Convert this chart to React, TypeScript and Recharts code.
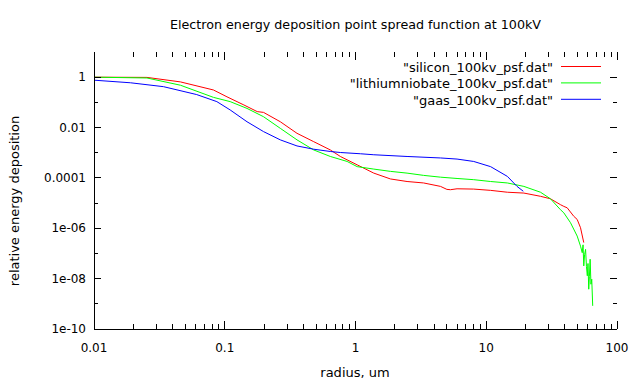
import React from 'react';
import { LineChart, Line, XAxis, YAxis, Legend } from 'recharts';

const FONT = '"DejaVu Sans", sans-serif';

const chartTitle = 'Electron energy deposition point spread function at 100kV';
const xAxisTitle = 'radius, um';
const yAxisTitle = 'relative energy deposition';

const xMajorTicks = [0.01, 0.1, 1, 10, 100];
const xMajorLabels = ['0.01', '0.1', '1', '10', '100'];
const xMinorTicks = [
  0.02, 0.03, 0.04, 0.05, 0.06, 0.07, 0.08, 0.09,
  0.2, 0.3, 0.4, 0.5, 0.6, 0.7, 0.8, 0.9,
  2, 3, 4, 5, 6, 7, 8, 9,
  20, 30, 40, 50, 60, 70, 80, 90,
];
const yMajorTicks = [1e-10, 1e-8, 1e-6, 1e-4, 0.01, 1];
const yMajorLabels = ['1e-10', '1e-08', '1e-06', '0.0001', '0.01', '1'];
const yMinorTicks = [1e-9, 1e-7, 1e-5, 1e-3, 0.1];

const seriesNames = ['"silicon_100kv_psf.dat"', '"lithiumniobate_100kv_psf.dat"', '"gaas_100kv_psf.dat"'];
const seriesColors = ['#ff0000', '#00ff00', '#0000ff'];

const siliconRadius = [0.01, 0.0254, 0.0458, 0.082, 0.104, 0.14, 0.177, 0.198, 0.266, 0.357, 0.479, 0.642, 0.766, 1.03, 1.38, 1.85, 2.48, 3.32, 4.47, 5.0, 5.32, 5.98, 8.02, 10.8, 14.5, 19.4, 26, 31, 36.9, 39.2, 41.6, 46.7, 49.6, 52.6, 55.7];
const siliconValue = [1.0, 0.98, 0.65, 0.31, 0.166, 0.079, 0.043, 0.04, 0.017, 0.0059, 0.00275, 0.00129, 7.1e-4, 3.3e-4, 1.55e-4, 9.1e-5, 7.2e-5, 6.3e-5, 4.6e-5, 3.5e-5, 3.4e-5, 3.7e-5, 3.6e-5, 3.2e-5, 2.7e-5, 2.5e-5, 1.86e-5, 1.48e-5, 8.7e-6, 7.4e-6, 6.5e-6, 3.0e-6, 2.24e-6, 1.05e-6, 2.7e-7];

const niobateRadius = [0.01, 0.0254, 0.0458, 0.082, 0.11, 0.148, 0.198, 0.266, 0.357, 0.479, 0.642, 0.863, 1.03, 1.38, 1.85, 2.48, 3.32, 4.47, 5.98, 8.02, 10.8, 14.5, 19.4, 26, 31, 36.9, 39.2, 44.1, 49.6, 52.6, 54.2, 55.0, 55.7, 56.5, 57.5, 58.4, 59.3, 60.0, 60.8, 61.5, 62.3, 63.2, 64.1, 65.2];
const niobateValue = [1.0, 0.93, 0.48, 0.158, 0.107, 0.0575, 0.0269, 0.0093, 0.00324, 0.00129, 7.1e-4, 4.5e-4, 2.8e-4, 2.24e-4, 1.82e-4, 1.55e-4, 1.26e-4, 1.07e-4, 9.5e-5, 8.5e-5, 7.2e-5, 6.3e-5, 4.6e-5, 2.7e-5, 1.48e-5, 5.5e-6, 4.1e-6, 1.66e-6, 4.9e-7, 1.95e-7, 1.07e-7, 2.2e-7, 3.2e-8, 9e-8, 1.45e-7, 3e-8, 1.3e-8, 4e-8, 3.8e-9, 1.2e-8, 5.9e-8, 6e-9, 9.5e-9, 8.3e-10];

const gaasRadius = [0.01, 0.019, 0.034, 0.061, 0.087, 0.11, 0.148, 0.198, 0.266, 0.357, 0.479, 0.642, 0.766, 1.09, 1.38, 2.48, 4.47, 5.98, 8.02, 10.8, 14.5, 17.2, 19.2];
const gaasValue = [0.76, 0.6, 0.42, 0.204, 0.107, 0.05, 0.017, 0.0069, 0.00324, 0.00186, 0.00138, 0.00112, 0.00102, 9.1e-4, 8.3e-4, 7.1e-4, 6.2e-4, 5.6e-4, 4.5e-4, 2.8e-4, 1.15e-4, 4.6e-5, 2.95e-5];

const toRows = (rs: number[], vs: number[]) => rs.map((r, i) => ({ r, v: vs[i] }));
const siliconData = toRows(siliconRadius, siliconValue);
const niobateData = toRows(niobateRadius, niobateValue);
const gaasData = toRows(gaasRadius, gaasValue);

const CHART_W = 640;
const CHART_H = 384;
const MARGIN = { top: 52, right: 23, left: 0, bottom: 0 };
const Y_AXIS_W = 94;
const X_AXIS_H = 55;
const PLOT_TOP = MARGIN.top;
const PLOT_RIGHT = CHART_W - MARGIN.right;

const xAllTicks = [...xMajorTicks, ...xMinorTicks];
const yAllTicks = [...yMajorTicks, ...yMinorTicks];

const tickText = { fontFamily: FONT, fontSize: 12, fill: '#000' } as const;

// Bottom axis tick: inward tick at the bottom, mirrored inward tick at the top, label for majors.
const XFrameTick = (props: any) => {
  const { x, y, payload } = props;
  const idx = xMajorTicks.indexOf(payload.value);
  const len = idx >= 0 ? 8 : 5;
  return (
    <g>
      <line x1={x} x2={x} y1={y} y2={y - len} stroke="#000" strokeWidth={1} shapeRendering="crispEdges" />
      <line x1={x} x2={x} y1={PLOT_TOP} y2={PLOT_TOP + len} stroke="#000" strokeWidth={1} shapeRendering="crispEdges" />
      {idx >= 0 && (
        <text x={x} y={y + 19} textAnchor="middle" dominantBaseline="central" style={tickText}>
          {xMajorLabels[idx]}
        </text>
      )}
    </g>
  );
};

// Left axis tick: inward tick at the left, mirrored inward tick at the right, label for majors.
const YFrameTick = (props: any) => {
  const { x, y, payload } = props;
  const idx = yMajorTicks.indexOf(payload.value);
  const len = idx >= 0 ? 7 : 4;
  return (
    <g>
      <line x1={x} x2={x + len} y1={y} y2={y} stroke="#000" strokeWidth={1} shapeRendering="crispEdges" />
      <line x1={PLOT_RIGHT} x2={PLOT_RIGHT - len} y1={y} y2={y} stroke="#000" strokeWidth={1} shapeRendering="crispEdges" />
      {idx >= 0 && (
        <text x={x - 8} y={y} textAnchor="end" dominantBaseline="central" style={tickText}>
          {yMajorLabels[idx]}
        </text>
      )}
    </g>
  );
};

const renderLegend = () => (
  <svg width={640} height={120} style={{ display: 'block' }}>
    {seriesNames.map((name, i) => (
      <g key={i}>
        <text x={553} y={67.5 + 16.4 * i} textAnchor="end" dominantBaseline="central" style={{ fontFamily: FONT, fontSize: 13, fill: '#000' }}>
          {name}
        </text>
        <line x1={561} x2={601} y1={66.5 + 16.4 * i} y2={66.5 + 16.4 * i} stroke={seriesColors[i]} strokeWidth={1} />
      </g>
    ))}
  </svg>
);

const al = { stroke: '#000', strokeWidth: 1, shapeRendering: 'crispEdges' };
const common = { type: 'number' as const, scale: 'log' as const, allowDataOverflow: true, interval: 0 as const, stroke: '#000' };

export default function App() {
  return (
    <div style={{ position: 'absolute', left: 0, top: 0, width: CHART_W, height: CHART_H, background: '#fff' }}>
      <div
        style={{
          position: 'absolute', left: 0, top: 17, width: 711, textAlign: 'center',
          fontFamily: FONT, fontSize: 12.7, color: '#000', lineHeight: '16px', whiteSpace: 'nowrap',
        }}
      >
        {chartTitle}
      </div>
      <div
        style={{
          position: 'absolute', left: 0, top: 365, width: 710, textAlign: 'center',
          fontFamily: FONT, fontSize: 13, color: '#000', lineHeight: '16px',
        }}
      >
        {xAxisTitle}
      </div>
      <div style={{ position: 'absolute', left: 15, top: 201, width: 0, height: 0 }}>
        <div
          style={{
            position: 'absolute', left: -150, top: -8, width: 300, textAlign: 'center',
            fontFamily: FONT, fontSize: 13, color: '#000', lineHeight: '16px',
            transform: 'rotate(-90deg)', whiteSpace: 'nowrap',
          }}
        >
          {yAxisTitle}
        </div>
      </div>
      <LineChart width={CHART_W} height={CHART_H} margin={MARGIN} style={{ position: 'absolute', left: 0, top: 0 }}>
        <XAxis {...common} xAxisId="b" dataKey="r" domain={[0.01, 100]} ticks={xAllTicks} tickSize={0} tickMargin={0} tickLine={false} tick={<XFrameTick />} axisLine={al} height={X_AXIS_H} orientation="bottom" />
        <XAxis {...common} xAxisId="t" dataKey="r" domain={[0.01, 100]} ticks={xMajorTicks} tick={false} tickLine={false} axisLine={al} height={0} orientation="top" />
        <YAxis {...common} yAxisId="l" domain={[1e-10, 10]} ticks={yAllTicks} tickSize={0} tickMargin={0} tickLine={false} tick={<YFrameTick />} axisLine={al} width={Y_AXIS_W} orientation="left" />
        <YAxis {...common} yAxisId="r" domain={[1e-10, 10]} ticks={yMajorTicks} tick={false} tickLine={false} axisLine={al} width={0} orientation="right" />
        <Legend
          content={renderLegend}
          layout="horizontal"
          verticalAlign="middle"
          align="center"
          wrapperStyle={{ position: 'absolute', left: 0, top: 0, width: 640, height: 120, pointerEvents: 'none' }}
        />
        <Line xAxisId="b" yAxisId="l" data={siliconData} dataKey="v" name={seriesNames[0]} stroke={seriesColors[0]} strokeWidth={1} dot={false} isAnimationActive={false} type="linear" />
        <Line xAxisId="b" yAxisId="l" data={niobateData} dataKey="v" name={seriesNames[1]} stroke={seriesColors[1]} strokeWidth={1} dot={false} isAnimationActive={false} type="linear" />
        <Line xAxisId="b" yAxisId="l" data={gaasData} dataKey="v" name={seriesNames[2]} stroke={seriesColors[2]} strokeWidth={1} dot={false} isAnimationActive={false} type="linear" />
      </LineChart>
    </div>
  );
}
